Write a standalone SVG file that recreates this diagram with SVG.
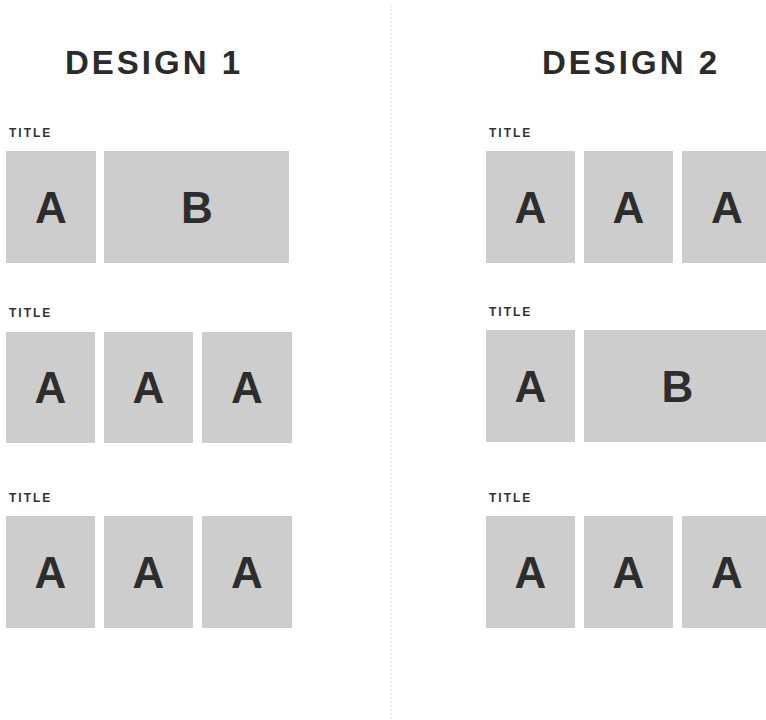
<svg xmlns="http://www.w3.org/2000/svg" width="766" height="720" viewBox="0 0 766 720">
<style>
.box{fill:#cdcdcd}
.head{font-family:"Liberation Sans",Arial,sans-serif;font-weight:bold;font-size:33px;letter-spacing:3px;fill:#2b2b2b;text-anchor:middle}
.ttl{font-family:"Liberation Sans",Arial,sans-serif;font-weight:bold;font-size:12px;letter-spacing:2px;fill:#333}
.lt{font-family:"Liberation Sans",Arial,sans-serif;font-weight:bold;font-size:44px;fill:#2d2d2d;text-anchor:middle}
</style>
<rect width="766" height="720" fill="#ffffff"/>
<line x1="391.5" y1="5" x2="391.5" y2="720" stroke="#e6e6e6" stroke-width="1.2" stroke-dasharray="2 2"/>

<g id="design1">
<text class="head" x="154" y="74">DESIGN 1</text>
<g id="d1-row1">
<text class="ttl" x="9" y="137">TITLE</text>
<g id="d1-r1-a"><rect class="box" x="6" y="151" width="90" height="112"/><text class="lt" x="51" y="223">A</text></g>
<g id="d1-r1-b"><rect class="box" x="104" y="151" width="185" height="112"/><text class="lt" x="197" y="223">B</text></g>
</g>
<g id="d1-row2">
<text class="ttl" x="9" y="317">TITLE</text>
<g id="d1-r2-a1"><rect class="box" x="6" y="332" width="89" height="111"/><text class="lt" x="50.5" y="403">A</text></g>
<g id="d1-r2-a2"><rect class="box" x="104" y="332" width="89" height="111"/><text class="lt" x="148.5" y="403">A</text></g>
<g id="d1-r2-a3"><rect class="box" x="202" y="332" width="90" height="111"/><text class="lt" x="247" y="403">A</text></g>
</g>
<g id="d1-row3">
<text class="ttl" x="9" y="502">TITLE</text>
<g id="d1-r3-a1"><rect class="box" x="6" y="516" width="89" height="112"/><text class="lt" x="50.5" y="588">A</text></g>
<g id="d1-r3-a2"><rect class="box" x="104" y="516" width="89" height="112"/><text class="lt" x="148.5" y="588">A</text></g>
<g id="d1-r3-a3"><rect class="box" x="202" y="516" width="90" height="112"/><text class="lt" x="247" y="588">A</text></g>
</g>
</g>

<g id="design2">
<text class="head" x="631" y="74">DESIGN 2</text>
<g id="d2-row1">
<text class="ttl" x="489" y="137">TITLE</text>
<g id="d2-r1-a1"><rect class="box" x="486" y="151" width="89" height="112"/><text class="lt" x="530.5" y="223">A</text></g>
<g id="d2-r1-a2"><rect class="box" x="584" y="151" width="89" height="112"/><text class="lt" x="628.5" y="223">A</text></g>
<g id="d2-r1-a3"><rect class="box" x="682" y="151" width="90" height="112"/><text class="lt" x="727" y="223">A</text></g>
</g>
<g id="d2-row2">
<text class="ttl" x="489" y="316">TITLE</text>
<g id="d2-r2-a"><rect class="box" x="486" y="330" width="89" height="112"/><text class="lt" x="530.5" y="402">A</text></g>
<g id="d2-r2-b"><rect class="box" x="584" y="330" width="186" height="112"/><text class="lt" x="677.5" y="402">B</text></g>
</g>
<g id="d2-row3">
<text class="ttl" x="489" y="502">TITLE</text>
<g id="d2-r3-a1"><rect class="box" x="486" y="516" width="89" height="112"/><text class="lt" x="530.5" y="588">A</text></g>
<g id="d2-r3-a2"><rect class="box" x="584" y="516" width="89" height="112"/><text class="lt" x="628.5" y="588">A</text></g>
<g id="d2-r3-a3"><rect class="box" x="682" y="516" width="90" height="112"/><text class="lt" x="727" y="588">A</text></g>
</g>
</g>
<g id="connectors"/>
</svg>
